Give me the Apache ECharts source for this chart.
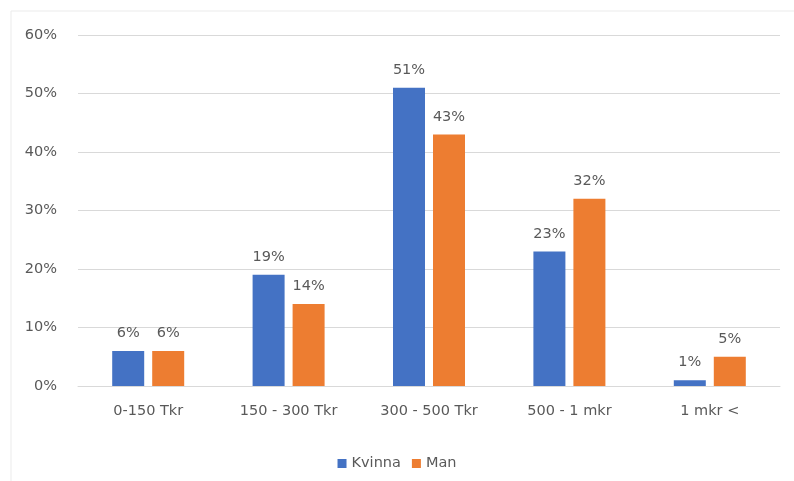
<!DOCTYPE html>
<html><head><meta charset="utf-8">
<script src="https://cdn.jsdelivr.net/npm/echarts@6/dist/echarts.min.js"></script>
<style>html,body{margin:0;padding:0;background:#fff}#c{width:794px;height:481px}</style>
</head><body><div id="c"></div>
<script>
const categories = ['0-150 Tkr', '150 - 300 Tkr', '300 - 500 Tkr', '500 - 1 mkr', '1 mkr <'];
const kvinna = [6, 19, 51, 23, 1];
const man = [6, 14, 43, 32, 5];
const seriesNames = ['Kvinna', 'Man'];
const yTicks = { min: 0, max: 60, interval: 10 };

const chart = echarts.init(document.getElementById('c'), null, { renderer: 'canvas' });
const font = '"DejaVu Sans", sans-serif';
const txt = '#595959';
const fs = 14.5;
const lbl = { show: true, position: 'top', distance: 10, color: txt, fontSize: fs, fontFamily: font, formatter: p => p.value + '%' };
chart.setOption({
  animation: false,
  graphic: [{ type: 'rect', shape: { x: 11, y: 11, width: 800, height: 500 }, style: { fill: 'none', stroke: '#ebebeb', lineWidth: 1 }, silent: true }],
  grid: { left: 78, right: 14, top: 35, bottom: 95 },
  legend: {
    bottom: 5, left: 'center', itemWidth: 9, itemHeight: 9, itemGap: 11,
    icon: 'rect',
    textStyle: { color: txt, fontSize: fs, fontFamily: font },
    data: seriesNames
  },
  xAxis: {
    type: 'category', data: categories,
    axisLine: { show: true, lineStyle: { color: '#d9d9d9' } },
    axisTick: { show: false },
    axisLabel: { color: txt, fontSize: fs, fontFamily: font, margin: 18 }
  },
  yAxis: {
    type: 'value', min: yTicks.min, max: yTicks.max, interval: yTicks.interval,
    axisLine: { show: false }, axisTick: { show: false },
    splitLine: { lineStyle: { color: '#d9d9d9' } },
    axisLabel: { color: txt, fontSize: fs, fontFamily: font, margin: 21, formatter: v => v + '%' }
  },
  series: [
    { name: seriesNames[0], type: 'bar', data: kvinna, barWidth: 32, barGap: '25%', itemStyle: { color: '#4472C4' }, label: lbl },
    { name: seriesNames[1], type: 'bar', data: man, barWidth: 32, barGap: '25%', itemStyle: { color: '#ED7D31' }, label: lbl }
  ]
});
</script></body></html>
